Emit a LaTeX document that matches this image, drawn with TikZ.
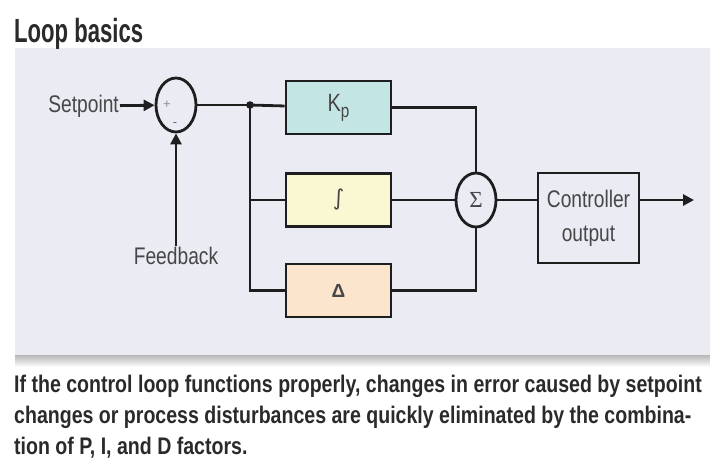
\documentclass[tikz,border=0pt]{standalone}
\usepackage{fontspec}
\setmainfont{Liberation Sans}
\newfontfamily\lblfont[FakeStretch=0.8]{Liberation Sans}
\newfontfamily\headfont[FakeStretch=0.66]{Liberation Sans}
\newfontfamily\capfont[FakeStretch=0.815]{Liberation Sans}
\newfontfamily\symfont{DejaVu Sans}
\newfontfamily\sigfont{Liberation Serif}
\usetikzlibrary{arrows.meta, positioning, calc, shapes.geometric}
\definecolor{loopPanel}{HTML}{EAEBF3}
\definecolor{loopLine}{HTML}{1E1E1E}
\definecolor{loopText}{HTML}{474747}
\definecolor{loopTeal}{HTML}{C3E6E4}
\definecolor{loopYellow}{HTML}{FAF8D2}
\definecolor{loopPeach}{HTML}{FBE5CC}
\definecolor{loopInk}{HTML}{2A2A2A}

\begin{document}
\begin{tikzpicture}[x=1pt,y=-1pt,
  blk/.style={draw=loopLine,line width=2.8pt,minimum width=105pt,minimum height=53pt,inner sep=0pt,text=loopText},
  junc/.style={ellipse,draw=loopLine,line width=2.8pt,minimum width=40pt,minimum height=54pt,inner sep=0pt,text=loopText},
  wire/.style={loopLine,line width=2.8pt},
  sig/.style={wire,-{Triangle[length=11pt,width=11pt]}},
  lbl/.style={font=\lblfont\fontsize{24}{26}\selectfont,text=loopText,inner sep=1pt}]
\useasboundingbox (0,0) rectangle (710,459);
% panel behind the loop
\fill[loopPanel] (15,48) rectangle (710,355);
\shade[top color=black!28,bottom color=white] (15,355) rectangle (710,367);
\node[anchor=base west,inner sep=0pt,text=loopInk,font=\headfont\bfseries\fontsize{33.5}{36}\selectfont] (title) at (14,42) {Loop basics};

% error junction
\node[junc] (err) at (176,105) {};
\node[text=loopText!60,inner sep=0pt,font=\fontsize{13}{13}\selectfont] (plus) at (167,105) {+};
\node[text=loopText!80,inner sep=0pt,font=\fontsize{13}{13}\selectfont] (minus) at (175,125) {-};
\node[lbl,anchor=east] (sp) at (120,106) {Setpoint};
\node[lbl] (fb) at (176,256) {Feedback};
\draw[sig] (sp) -- (err);
\draw[sig] (fb) -- (err);
\coordinate (tap) at (250,105);
\draw[wire] (err) -- (tap);
\fill[loopLine] (tap) circle (3.8pt);

% P, I and D branches
\foreach \nm/\yy/\lab/\col in {
  kp/107.5/{\lblfont\fontsize{25}{25}\selectfont K\raisebox{-6pt}{\fontsize{19}{19}\selectfont p}}/loopTeal,
  ki/200/{\symfont\fontsize{22}{22}\selectfont ∫}/loopYellow,
  kd/290.5/{\bfseries\fontsize{19}{19}\selectfont Δ}/loopPeach} {
  \node[blk,fill=\col] (\nm) at (338.5,\yy) {\lab};
}
\draw[wire] (tap) -- (kp);
\draw[wire] (tap) |- (ki);
\draw[wire] (tap) |- (kd);

% summing and output
\node[junc] (sum) at (476,200) {\sigfont\fontsize{23}{23}\selectfont Σ};
\draw[wire] (kp) -| (sum);
\draw[wire] (ki) -- (sum);
\draw[wire] (kd) -| (sum);
\node[blk,minimum width=101pt,minimum height=90pt,align=center,font=\lblfont\fontsize{24}{34}\selectfont] (ctl) at (588.5,218) {Controller\\output};
\draw[wire] (sum) -- (sum -| ctl.west);
\coordinate (out) at (694,200);
\draw[sig] (sum -| ctl.east) -- (out);

\node[anchor=base west,align=left,inner sep=0pt,text=loopInk,font=\capfont\bfseries\fontsize{24}{31}\selectfont] (cap) at (14,454) {If the control loop functions properly, changes in error caused by setpoint\\changes or process disturbances are quickly eliminated by the combina-\\tion of P, I, and D factors.};
\end{tikzpicture}
\end{document}
